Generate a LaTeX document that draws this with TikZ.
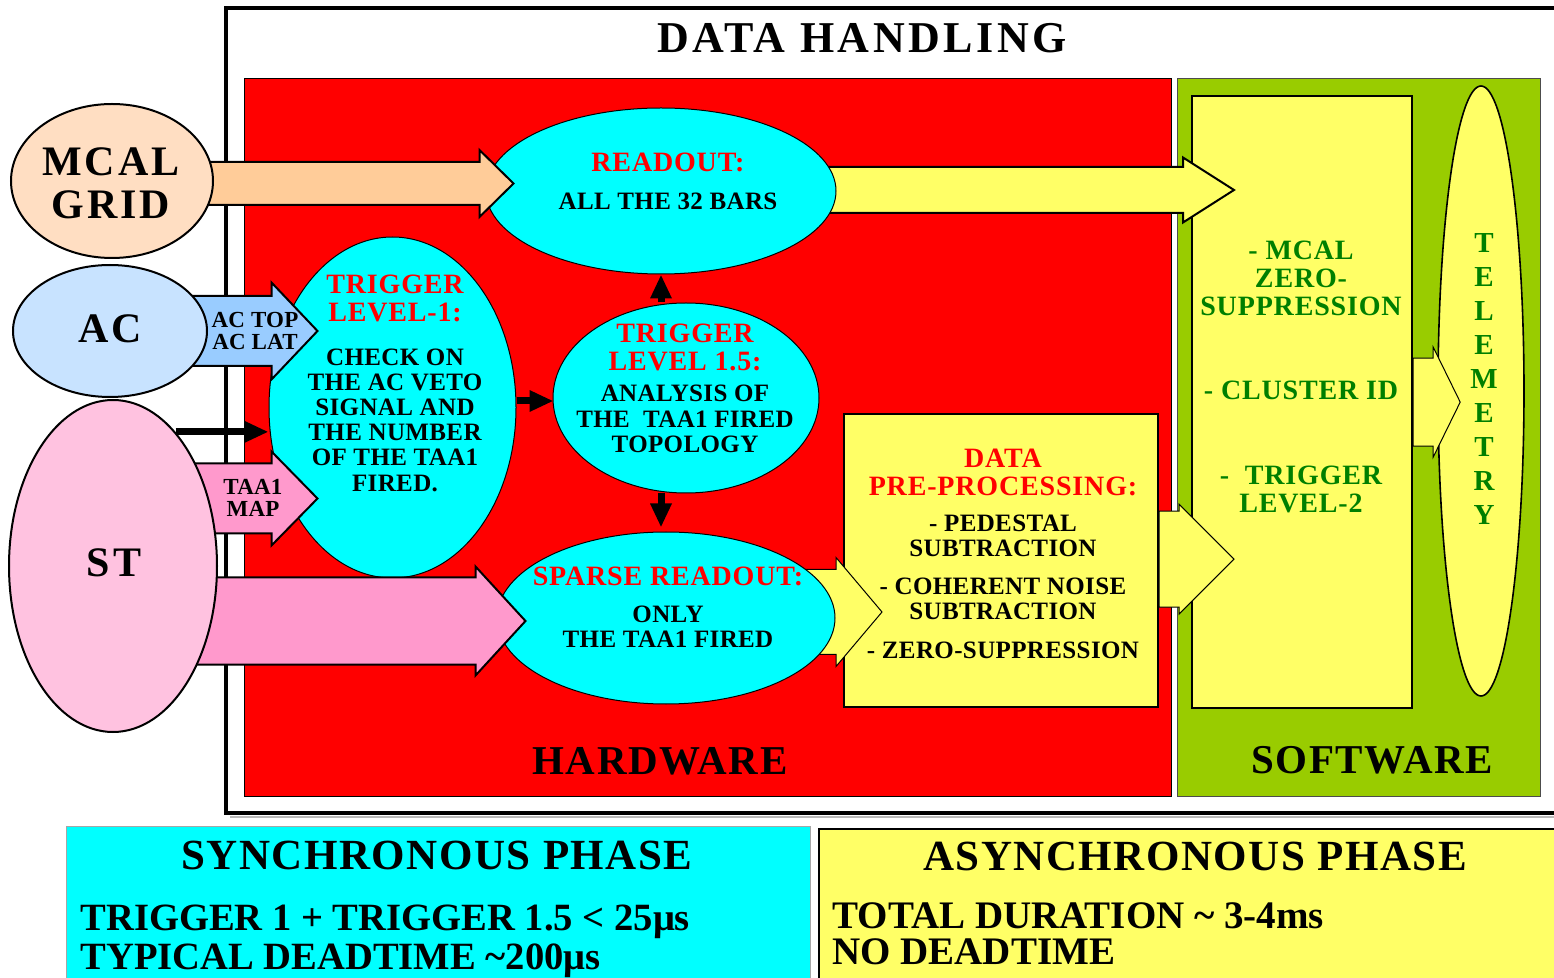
\documentclass[tikz,border=0pt]{standalone}
\usepackage{fontspec}
\setmainfont{Liberation Serif}
\usetikzlibrary{calc,arrows.meta,shapes.geometric}

\definecolor{cyanC}{HTML}{00FFFF}
\definecolor{redC}{HTML}{FF0000}
\definecolor{yelC}{HTML}{FFFF66}
\definecolor{grnC}{HTML}{99CC00}
\definecolor{txtgreen}{HTML}{007F00}
\definecolor{mcalE}{HTML}{FFDEC2}
\definecolor{mcalA}{HTML}{FFCC99}
\definecolor{acE}{HTML}{C8E3FF}
\definecolor{acA}{HTML}{99CCFF}
\definecolor{stE}{HTML}{FFC2E0}
\definecolor{stA}{HTML}{FF99CC}

\pgfdeclarelayer{bg}
\pgfdeclarelayer{low}
\pgfdeclarelayer{mid}
\pgfdeclarelayer{arrA}
\pgfdeclarelayer{arrB}
\pgfdeclarelayer{top}
\pgfsetlayers{bg,low,mid,arrA,main,arrB,top}

% bold text at a given size and tracking
\newcommand\boldsz[3]{\fontsize{#1}{#2}\selectfont\bfseries\addfontfeatures{LetterSpace=#3}}

% one drawing unit = 0.5pt
\def\pxu{0.5pt}
% block arrow: #1 style, #2 tail point, #3 tip point,
% #4 half body width, #5 half head width, #6 head length (drawing units)
\newcommand\blockarrow[6]{%
  \path[#1] let \p1=#2, \p2=#3 in
    (\x1,{\y2+#4*\pxu}) -- ({\x2-#6*\pxu},{\y2+#4*\pxu})
    -- ({\x2-#6*\pxu},{\y2+#5*\pxu}) -- (\x2,\y2)
    -- ({\x2-#6*\pxu},{\y2-#5*\pxu}) -- ({\x2-#6*\pxu},{\y2-#4*\pxu})
    -- (\x1,{\y2-#4*\pxu}) -- cycle;}

\begin{document}
\begin{tikzpicture}[x=0.5pt,y=-0.5pt,
  lbl/.style={inner sep=0pt, align=center, font=\bfseries},
  redt/.style={lbl, text=redC, font=\boldsz{14}{14}{3}},
  blk/.style={lbl, font=\boldsz{12.5}{12.6}{1.5}},
  grt/.style={lbl, text=txtgreen, font=\boldsz{14}{14}{3}},
  big/.style={lbl, font=\boldsz{21}{21.5}{7}},
  phase/.style={lbl, font=\boldsz{19.3}{19.3}{0}, anchor=base west},
  cyanell/.style={ellipse, draw=black, line width=0.5pt, fill=cyanC, inner sep=0pt},
  srcell/.style={ellipse, draw=black, line width=1pt, inner sep=0pt},
  area/.style={rectangle, anchor=north west, inner sep=0pt},
  thickblk/.style={draw=black, line width=1pt, line join=miter},
  thinblk/.style={draw=black, line width=0.5pt, line join=miter},
  barrow/.style={line width=3.5pt, -{Triangle[length=12pt,width=10pt]}}
]
\useasboundingbox (0,0) rectangle (1554,978);

% ---------- frame and zones ----------
\begin{pgfonlayer}{bg}
  \draw[gray!55, line width=1pt] (230,817) -- (1570,817);
  \draw[line width=2pt] (1570,8) -- (226,8) -- (226,813) -- (1570,813);
  \node[lbl, font=\boldsz{22}{22}{8}] (title) at (862,38) {DATA HANDLING};
  \node[area, draw=black, line width=0.6pt, fill=redC,
        minimum width=463.5pt, minimum height=359pt] (hw) at (244,78) {};
  \node[area, draw=black!70, line width=0.6pt, fill=grnC,
        minimum width=181.5pt, minimum height=359pt] (swzone) at (1177,78) {};
  \node[ellipse, draw=black, line width=0.8pt, fill=yelC, inner sep=0pt,
        minimum width=43pt, minimum height=305pt] (tele) at (1481,391) {};
  \node[grt, font=\boldsz{14.5}{17}{0}] (tele-t) at (1484,379)
        {T\\E\\L\\E\\M\\E\\T\\R\\Y};
  \node[lbl, font=\boldsz{20.5}{20.5}{4}] (hw-t) at (660,761) {HARDWARE};
  \node[lbl, font=\boldsz{20.5}{20.5}{4}] (sw-t) at (1372,760) {SOFTWARE};

  % phase panels
  \node[area, draw=gray!70, line width=0.5pt, fill=cyanC,
        minimum width=372pt, minimum height=80pt] (sync) at (66,826) {};
  \node[area, draw=black, line width=0.8pt, fill=yelC,
        minimum width=380pt, minimum height=80pt] (async) at (818,828) {};
  \node[lbl, font=\boldsz{21.5}{21.5}{3.5}] (sync-t) at (437,855) {SYNCHRONOUS PHASE};
  \node[phase] (sync-a) at (80,930) {TRIGGER 1 + TRIGGER 1.5 < 25μs};
  \node[phase] (sync-b) at (80,969) {TYPICAL DEADTIME \textasciitilde200μs};
  \node[lbl, font=\boldsz{21.5}{21.5}{3.5}] (async-t) at (1195,856) {ASYNCHRONOUS PHASE};
  \node[phase, font=\boldsz{19.5}{19.5}{0}] (async-a) at (832,928) {TOTAL DURATION \textasciitilde\ 3-4ms};
  \node[phase, font=\boldsz{19.5}{19.5}{0}] (async-b) at (832,964) {NO DEADTIME};
\end{pgfonlayer}

% ---------- processing boxes ----------
\begin{pgfonlayer}{mid}
  \node[area, draw=black, line width=1.1pt, fill=yelC,
        minimum width=110pt, minimum height=306pt] (sw) at (1191,95) {};
  \node[grt] (sw-text) at (1301,376.5)
        {- MCAL\\ZERO-\\SUPPRESSION\\[28pt]- CLUSTER ID\\[28.5pt]-\ \ TRIGGER\\LEVEL-2};
  \node[area, draw=black, line width=1.1pt, fill=yelC,
        minimum width=157pt, minimum height=146.5pt] (pre) at (843,413) {};
  \node[redt] (pre-t) at (1003,472) {DATA\\PRE-PROCESSING:};
  \node[blk] (pre-b) at (1003,587)
        {- PEDESTAL\\SUBTRACTION\\[6pt]- COHERENT NOISE\\SUBTRACTION\\[7pt]- ZERO-SUPPRESSION};
\end{pgfonlayer}

% ---------- trigger and readout stages ----------
\node[cyanell, minimum width=175pt, minimum height=83pt] (readout) at (661,191) {};
\node[redt] (readout-t) at (668,162) {READOUT:};
\node[blk] (readout-b) at (668,201) {ALL THE 32 BARS};

\node[cyanell, minimum width=123.5pt, minimum height=170.5pt] (l1) at (392.5,407.5) {};
\node[redt] (l1-t) at (395,298) {TRIGGER\\LEVEL-1:};
\node[blk] (l1-b) at (395,420)
      {CHECK ON\\THE AC VETO\\SIGNAL AND\\THE NUMBER\\OF THE TAA1\\FIRED.};

\node[cyanell, minimum width=133pt, minimum height=95pt] (l15) at (686,398) {};
\node[redt] (l15-t) at (685,347) {TRIGGER\\LEVEL 1.5:};
\node[blk] (l15-b) at (685,419) {ANALYSIS OF\\THE\ \ TAA1 FIRED\\TOPOLOGY};

\node[cyanell, minimum width=169pt, minimum height=86pt] (sparse) at (666,618) {};
\node[redt] (sparse-t) at (668,576) {SPARSE READOUT:};
\node[blk] (sparse-b) at (668,627) {ONLY\\THE TAA1 FIRED};

% ---------- detector sources ----------
\begin{pgfonlayer}{top}
  \node[srcell, fill=mcalE, minimum width=101pt, minimum height=77pt] (mcal) at (112,181) {};
  \node[big] (mcal-t) at (111,183.5) {MCAL\\GRID};
  \node[srcell, fill=acE, minimum width=97pt, minimum height=66pt] (ac) at (110,331) {};
  \node[big] (ac-t) at (110,329) {AC};
  \node[srcell, fill=stE, minimum width=104pt, minimum height=166pt] (st) at (113,566) {};
  \node[big] (st-t) at (114,563) {ST};
\end{pgfonlayer}

% ---------- data flow ----------
\begin{pgfonlayer}{low}
  \blockarrow{fill=yelC, thinblk}{(sw.east)}{($(sw.east)+(47,0)$)}{44}{55}{27}
\end{pgfonlayer}

\begin{pgfonlayer}{arrA}
  \blockarrow{fill=yelC, thickblk}{(readout.center)}{($(readout.east -| sw.west)+(43,-1)$)}{23}{32.5}{51}
  \blockarrow{fill=yelC, thinblk}{(sparse.center)}{($(sparse.center -| pre.west)+(39,-6)$)}{42.5}{54.5}{46}
  \blockarrow{fill=yelC, thinblk}{(pre.east)}{($(sw.west)+(43,157)$)}{48}{55}{55}
\end{pgfonlayer}

\begin{pgfonlayer}{arrB}
  \blockarrow{fill=mcalA, thickblk}{(mcal.center)}{($(readout.west)+(28,-7.5)$)}{21.5}{33.5}{34}
  \blockarrow{fill=acA, thickblk}{(ac.center)}{($(ac.east -| l1.west)+(49,0)$)}{35}{48.5}{46}
  \blockarrow{fill=stA, thickblk}{(st.center)}{($(l1.west)+(49,91)$)}{35}{47}{46}
  \blockarrow{fill=stA, thickblk}{(st.center)}{($(sparse.west)+(29,3)$)}{43.5}{54.5}{50}
  \node[lbl, font=\boldsz{11.5}{11}{1}] (ac-lbl) at (255,331) {AC TOP\\AC LAT};
  \node[lbl, font=\boldsz{11.5}{11}{1}] (taa1-lbl) at (253,498) {TAA1\\MAP};

  \draw[barrow] (st.65) -- (st.65 -| l1.west);
  \draw[barrow] ($(l1.east |- l15.west)+(0,3)$) -- ($(l15.west)+(1,3)$);
  \draw[barrow] (l15.north -| readout.south) -- (readout.south);
  \draw[barrow] (l15.south -| readout.south) -- ($(sparse.north -| readout.south)+(0,-4)$);
\end{pgfonlayer}
\end{tikzpicture}
\end{document}
